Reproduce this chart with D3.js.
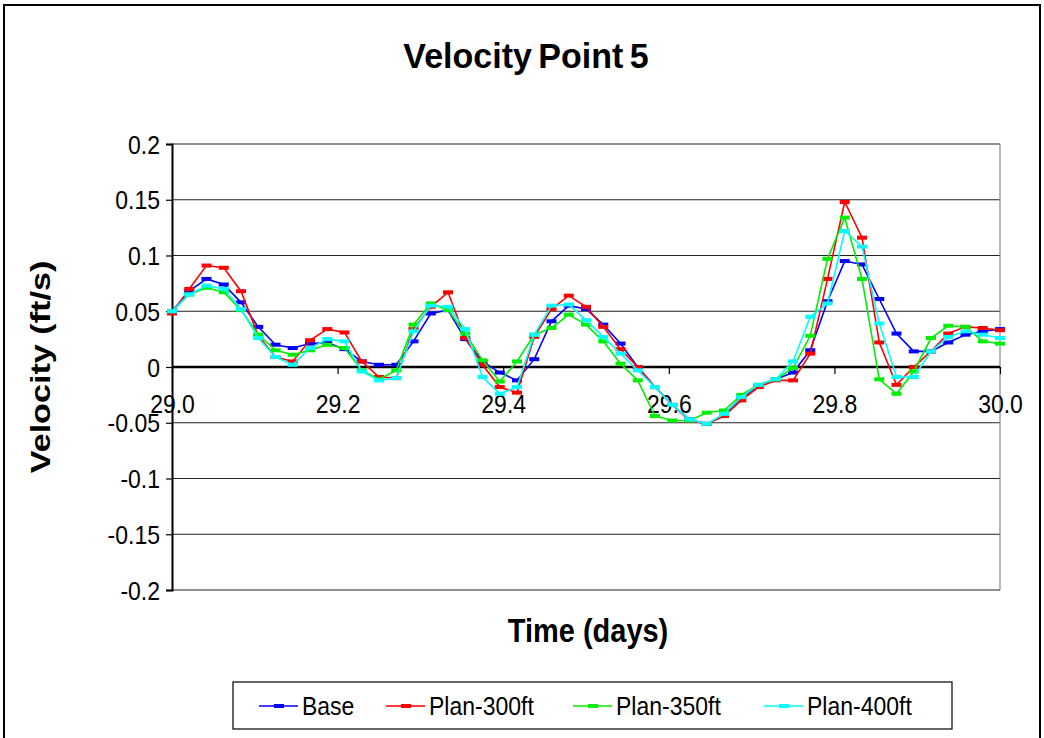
<!DOCTYPE html>
<html>
<head>
<meta charset="utf-8">
<script src="https://cdn.jsdelivr.net/npm/d3@7"></script>
<style>
  html, body { margin: 0; padding: 0; background: #fff; }
  svg { display: block; font-family: "Liberation Sans", Arial, sans-serif; }
</style>
</head>
<body>
<svg id="chart" width="1044" height="738"></svg>
<script>
// Time axis: half-hour samples over day 29 → 30
const startDay = 29.0;
const stepDay = 1 / 48;

const xTickLabels = ["29.0", "29.2", "29.4", "29.6", "29.8", "30.0"];
const yTickValues = [0.2, 0.15, 0.1, 0.05, 0, -0.05, -0.1, -0.15, -0.2];

const seriesNames = ["Base", "Plan-300ft", "Plan-350ft", "Plan-400ft"];
const seriesColors = ["#0000ff", "#ff0000", "#00ee00", "#00ffff"];

const baseValues = [
  0.050, 0.068, 0.079, 0.074, 0.058, 0.036, 0.020, 0.017, 0.021, 0.022,
  0.016, 0.005, 0.002, 0.002, 0.023, 0.048, 0.051, 0.025, 0.005, -0.005,
  -0.012, 0.007, 0.041, 0.055, 0.052, 0.038, 0.021, 0.000, -0.018, -0.034,
  -0.047, -0.051, -0.043, -0.028, -0.017, -0.011, -0.005, 0.015, 0.059, 0.095,
  0.092, 0.061, 0.030, 0.014, 0.014, 0.022, 0.029, 0.032, 0.034
];
const plan300Values = [
  0.048, 0.070, 0.091, 0.089, 0.068, 0.028, 0.009, 0.005, 0.024, 0.034,
  0.031, 0.005, -0.009, -0.010, 0.034, 0.054, 0.067, 0.026, 0.002, -0.018,
  -0.023, 0.027, 0.052, 0.064, 0.054, 0.036, 0.016, 0.000, -0.018, -0.034,
  -0.048, -0.051, -0.044, -0.030, -0.018, -0.012, -0.012, 0.012, 0.079, 0.148,
  0.116, 0.022, -0.016, 0.000, 0.014, 0.030, 0.036, 0.035, 0.033
];
const plan350Values = [
  0.050, 0.065, 0.071, 0.067, 0.051, 0.029, 0.015, 0.011, 0.015, 0.020,
  0.017, -0.003, -0.011, -0.003, 0.038, 0.057, 0.051, 0.030, 0.006, -0.013,
  0.005, 0.029, 0.035, 0.047, 0.038, 0.023, 0.003, -0.012, -0.044, -0.048,
  -0.048, -0.041, -0.039, -0.025, -0.016, -0.011, -0.001, 0.028, 0.097, 0.134,
  0.079, -0.011, -0.024, -0.004, 0.026, 0.037, 0.036, 0.023, 0.021
];
const plan400Values = [
  0.050, 0.065, 0.073, 0.070, 0.052, 0.026, 0.009, 0.002, 0.017, 0.025,
  0.023, -0.004, -0.012, -0.010, 0.032, 0.055, 0.054, 0.034, -0.009, -0.024,
  -0.018, 0.029, 0.055, 0.056, 0.042, 0.027, 0.012, -0.003, -0.018, -0.034,
  -0.047, -0.051, -0.042, -0.027, -0.016, -0.011, 0.005, 0.045, 0.057, 0.122,
  0.108, 0.039, -0.009, -0.009, 0.014, 0.027, 0.032, 0.029, 0.026
];

const seriesValues = [baseValues, plan300Values, plan350Values, plan400Values];

// glyphs are drawn a little taller than wide
const stretchY = 1.12;

const svg = d3.select("#chart");

// outer chart frame
svg.append("rect")
  .attr("x", 4).attr("y", 5).attr("width", 1036).attr("height", 740)
  .attr("fill", "#fff").attr("stroke", "#000").attr("stroke-width", 2);

const plot = { left: 172, right: 1000, top: 144, bottom: 590 };

const x = d3.scaleLinear().domain([29.0, 30.0]).range([plot.left, plot.right]);
const y = d3.scaleLinear().domain([-0.2, 0.2]).range([plot.bottom, plot.top]);

// title
svg.append("text")
  .attr("transform", `translate(526,68) scale(1,1.05)`)
  .attr("text-anchor", "middle")
  .attr("font-size", 34).attr("font-weight", "bold")
  .attr("word-spacing", -3)
  .text("Velocity Point 5");

// horizontal gridlines
svg.append("g").selectAll("line")
  .data(yTickValues.filter(v => v !== 0))
  .join("line")
  .attr("x1", plot.left).attr("x2", plot.right)
  .attr("y1", d => y(d)).attr("y2", d => y(d))
  .attr("stroke", "#222").attr("stroke-width", 1.2);

// right border of plot area
svg.append("line")
  .attr("x1", plot.right).attr("x2", plot.right)
  .attr("y1", plot.top).attr("y2", plot.bottom)
  .attr("stroke", "#888").attr("stroke-width", 1.2);

const tickFont = 23;
const tickCap = 0.716 * tickFont * stretchY;

// y axis
const yAxis = d3.axisLeft(y)
  .tickValues(yTickValues)
  .tickSize(6)
  .tickFormat(d => d === 0 ? "0" : String(d));
const gy = svg.append("g")
  .attr("transform", `translate(${plot.left},0)`)
  .call(yAxis);
gy.select(".domain").attr("stroke", "#000").attr("stroke-width", 2);
gy.selectAll(".tick line").attr("stroke", "#000").attr("stroke-width", 1.2);
gy.selectAll(".tick text")
  .attr("font-size", tickFont).attr("fill", "#000")
  .attr("font-family", "Liberation Sans, Arial, sans-serif")
  .attr("x", 0).attr("y", 0).attr("dy", null)
  .attr("transform", `translate(-12,${tickCap / 2}) scale(1,${stretchY})`);

// x axis crossing at zero
const xTickVals = xTickLabels.map(Number);
const xAxis = d3.axisBottom(x)
  .tickValues(xTickVals)
  .tickSize(7)
  .tickFormat((d, i) => xTickLabels[i]);
const gx = svg.append("g")
  .attr("transform", `translate(0,${y(0)})`)
  .call(xAxis);
gx.select(".domain").attr("stroke", "#000").attr("stroke-width", 2.4).attr("d", `M${plot.left},0H${plot.right}`);
gx.selectAll(".tick line").attr("stroke", "#000").attr("stroke-width", 1.2);
gx.selectAll(".tick text")
  .attr("font-size", tickFont).attr("fill", "#000")
  .attr("font-family", "Liberation Sans, Arial, sans-serif")
  .attr("x", 0).attr("y", 0).attr("dy", null)
  .attr("transform", `translate(0,46) scale(1,${stretchY})`);

// axis titles
svg.append("text")
  .attr("transform", `translate(50,${(plot.top + plot.bottom) / 2}) scale(1,1.22) rotate(-90)`)
  .attr("text-anchor", "middle")
  .attr("font-size", 28).attr("font-weight", "bold")
  .text("Velocity (ft/s)");

svg.append("text")
  .attr("transform", `translate(588,642) scale(1,${stretchY})`)
  .attr("text-anchor", "middle")
  .attr("font-size", 29).attr("font-weight", "bold")
  .text("Time (days)");

// series lines and dash markers
const line = d3.line()
  .x((d, i) => x(startDay + i * stepDay))
  .y(d => y(d));

seriesValues.forEach((vals, s) => {
  const g = svg.append("g");
  g.append("path")
    .datum(vals)
    .attr("d", line)
    .attr("fill", "none")
    .attr("stroke", seriesColors[s])
    .attr("stroke-width", 1.6);
  g.selectAll("rect")
    .data(vals)
    .join("rect")
    .attr("x", (d, i) => x(startDay + i * stepDay) - 5)
    .attr("y", d => y(d) - 2)
    .attr("width", 10).attr("height", 4)
    .attr("fill", seriesColors[s]);
});

// legend
const legend = svg.append("g");
legend.append("rect")
  .attr("x", 233).attr("y", 682).attr("width", 719).attr("height", 47)
  .attr("fill", "#fff").attr("stroke", "#000").attr("stroke-width", 1.2);

const legendX = [259, 386, 573, 764];
seriesNames.forEach((name, s) => {
  const lx = legendX[s];
  legend.append("line")
    .attr("x1", lx).attr("x2", lx + 39)
    .attr("y1", 706).attr("y2", 706)
    .attr("stroke", seriesColors[s]).attr("stroke-width", 1.6);
  legend.append("rect")
    .attr("x", lx + 15).attr("y", 704).attr("width", 10).attr("height", 4)
    .attr("fill", seriesColors[s]);
  legend.append("text")
    .attr("transform", `translate(${lx + 43},715) scale(1,${stretchY})`)
    .attr("font-size", 23)
    .text(name);
});
</script>
</body>
</html>
